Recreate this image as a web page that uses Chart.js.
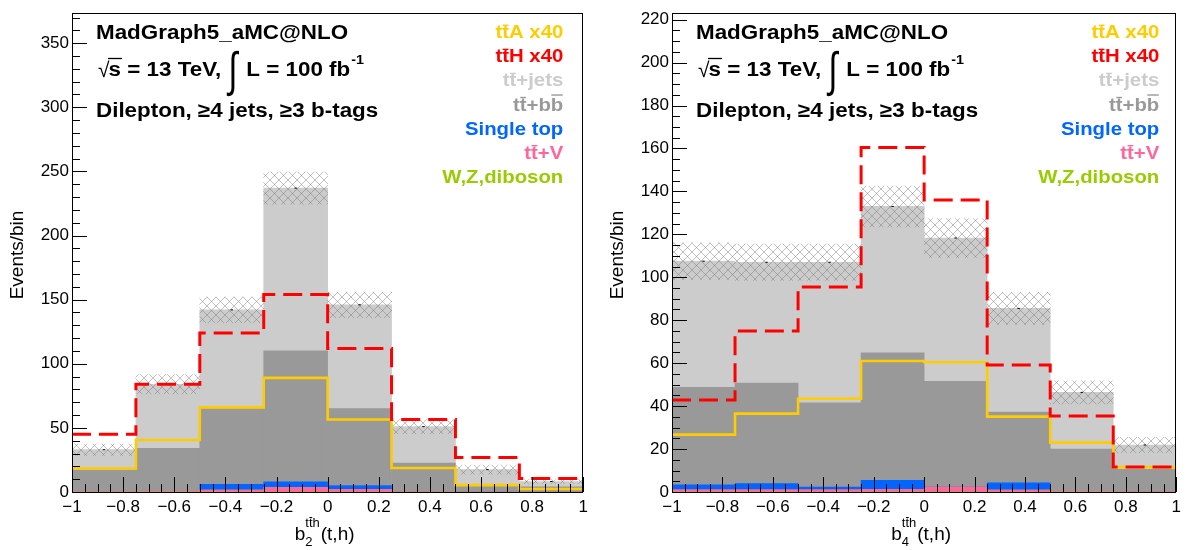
<!DOCTYPE html>
<html>
<head>
<meta charset="utf-8">
<script src="https://cdn.jsdelivr.net/npm/chart.js@4.4.1/dist/chart.umd.min.js"></script>
<style>
  body { margin: 0; background: #fff; }
  #wrap { position: relative; width: 1186px; height: 550px; }
  #wrap canvas { position: absolute; top: 0; }
</style>
</head>
<body>
<div id="wrap">
  <canvas id="cb2" width="593" height="550" style="left:0px"></canvas>
  <canvas id="cb4" width="593" height="550" style="left:593px"></canvas>
</div>
<script>
// binning: 8 bins of width 0.25 between -1 and 1
var binLow = [-1, -0.75, -0.5, -0.25, 0, 0.25, 0.5, 0.75];
var binWidth = 0.25;

// b2 distribution (events/bin, 100 fb-1)
var b2_wz     = [0, 0, 0, 0, 0, 0, 0, 0];
var b2_ttV    = [0.4, 0.6, 1.6, 3.6, 2.0, 0.3, 0.2, 0.1];
var b2_stop   = [0.0, 0.0, 4.4, 4.4, 3.1, 0.1, 0.0, 0.0];
var b2_ttbb   = [16.6, 33.4, 59.0, 102.0, 59.9, 22.2, 5.8, 4.0];
var b2_ttjets = [16.0, 50.0, 77.0, 127.0, 81.0, 28.4, 11.5, 4.1];
var b2_err    = [4.4, 7.5, 10.0, 12.5, 10.0, 5.5, 3.5, 1.5];
var b2_ttH    = [45.0, 84.0, 124.0, 154.0, 112.0, 56.5, 27.0, 10.5];
var b2_ttA    = [18.3, 40.5, 66.0, 89.0, 56.5, 18.7, 5.4, 2.3];

// b4 distribution
var b4_wz     = [0, 0, 0, 0, 0, 0, 0, 0];
var b4_ttV    = [1.1, 1.1, 1.1, 1.3, 2.3, 1.0, 0.3, 0.2];
var b4_stop   = [2.2, 2.8, 1.2, 4.1, 0.0, 3.3, 0.0, 0.0];
var b4_ttbb   = [45.4, 46.8, 39.2, 59.4, 49.2, 32.9, 19.7, 10.4];
var b4_ttjets = [58.8, 56.3, 65.5, 68.2, 66.8, 48.3, 26.4, 11.3];
var b4_err    = [8.5, 8.5, 8.5, 9.5, 9.0, 7.5, 5.4, 3.6];
var b4_ttH    = [42.8, 75.0, 95.5, 160.5, 136.0, 59.2, 35.4, 11.6];
var b4_ttA    = [26.7, 36.5, 43.4, 61.0, 60.4, 35.1, 23.0, 11.6];

// legend entries, top to bottom ("bars" = character ranges drawn with an overline)
var legendText  = ['ttA x40', 'ttH x40', 'tt+jets', 'tt+bb', 'Single top', 'tt+V', 'W,Z,diboson'];
var legendBars  = [[[1, 2]], [[1, 2]], [[1, 2]], [[1, 2], [4, 5]], [], [[1, 2]], []];
var legendColor = ['#ffcc00', '#ff0000', '#cccccc', '#999999', '#0066ff', '#ff6699', '#99cc00'];

var headTitle = 'MadGraph5_aMC@NLO';
var headCut = 'Dilepton, \u22654 jets, \u22653 b-tags';
var yTitle = 'Events/bin';

var FONT = '"Liberation Sans", Arial, Helvetica, sans-serif';

function sum(arrs, i) {
  var s = 0;
  for (var k = 0; k < arrs.length; k++) s += arrs[k][i];
  return s;
}

function barPoints(vals) {
  return binLow.map(function (x, i) { return { x: x + binWidth / 2, y: vals[i] }; });
}

// histogram outline: one point per low edge plus the last high edge
function stepPoints(vals) {
  var pts = binLow.map(function (x, i) { return { x: x, y: vals[i] }; });
  pts.push({ x: binLow[binLow.length - 1] + binWidth, y: vals[vals.length - 1] });
  return pts;
}

function hatchPattern() {
  var c = document.createElement('canvas');
  c.width = 9; c.height = 9;
  var g = c.getContext('2d');
  g.strokeStyle = 'rgba(115,115,115,0.45)';
  g.lineWidth = 1;
  g.beginPath();
  g.moveTo(0, 0); g.lineTo(9, 9);
  g.moveTo(0, 9); g.lineTo(9, 0);
  g.stroke();
  return g.createPattern(c, 'repeat');
}

function text(ctx, s, x, y, font, color, align, sx) {
  sx = sx || 1;
  ctx.save();
  ctx.font = font;
  ctx.fillStyle = color || '#000';
  ctx.textAlign = align || 'left';
  ctx.textBaseline = 'alphabetic';
  ctx.translate(x, y);
  ctx.scale(sx, 1);
  ctx.fillText(s, 0, 0);
  var w = ctx.measureText(s).width * sx;
  ctx.restore();
  return w;
}

function measure(ctx, s, font, sx) {
  ctx.save();
  ctx.font = font;
  var w = ctx.measureText(s).width * (sx || 1);
  ctx.restore();
  return w;
}

function hline(ctx, x1, x2, y, color, lw) {
  ctx.save();
  ctx.strokeStyle = color;
  ctx.lineWidth = lw;
  ctx.beginPath();
  ctx.moveTo(x1, y); ctx.lineTo(x2, y);
  ctx.stroke();
  ctx.restore();
}

// axes ticks (inside the frame), frame and all the labels drawn on top
var decor = {
  id: 'decor',
  afterDatasetsDraw: function (chart, args, o) {
    var ctx = chart.ctx, a = chart.chartArea;
    var xs = chart.scales.x, ys = chart.scales.y;
    ctx.save();
    ctx.strokeStyle = '#000';
    ctx.lineWidth = 1;
    ctx.beginPath();
    var n = Math.floor(ys.max / o.yMinor + 1e-6);
    var per = Math.round(o.yStep / o.yMinor);
    for (var i = 0; i <= n; i++) {
      var py = Math.round(ys.getPixelForValue(i * o.yMinor)) + 0.5;
      var len = (i % per === 0) ? 15 : 8;
      ctx.moveTo(a.left, py); ctx.lineTo(a.left + len, py);
    }
    for (var j = 0; j <= 40; j++) {
      var px = Math.round(xs.getPixelForValue(-1 + j * 0.05)) + 0.5;
      var l2 = (j % 4 === 0) ? 15 : 8;
      ctx.moveTo(px, a.bottom); ctx.lineTo(px, a.bottom - l2);
    }
    ctx.stroke();
    ctx.strokeRect(Math.round(a.left) + 0.5, Math.round(a.top) + 0.5,
                   Math.round(a.right - a.left) - 1, Math.round(a.bottom - a.top));
    ctx.restore();
  },
  afterDraw: function (chart, args, o) {
    var ctx = chart.ctx, a = chart.chartArea;
    var bold20 = 'bold 20px ' + FONT;
    var sxHead = 1.12;
    var x0 = a.left + 24;

    // generator / energy / selection block
    text(ctx, headTitle, x0, 39, bold20, '#000', 'left', sxHead);

    var bx = x0 + 2, by = 76;
    var wr = text(ctx, '\u221a', bx, by + 1, '21px ' + FONT, '#000', 'left', 1);
    var ws = text(ctx, 's', bx + wr - 1, by, bold20, '#000', 'left', sxHead);
    hline(ctx, bx + wr - 1.5, bx + wr + ws, by - 17.5, '#000', 1.3);
    var w1 = text(ctx, ' = 13 TeV,', bx + wr + ws - 1, by, bold20, '#000', 'left', sxHead);
    var ix = bx + wr + ws + w1 + 6;
    ctx.save();
    ctx.font = '30px ' + FONT;
    ctx.fillStyle = '#000';
    ctx.translate(ix, by + 10);
    ctx.scale(1.1, 1.6);
    ctx.fillText('\u222b', 0, 0);
    var wi = ctx.measureText('\u222b').width * 1.1;
    ctx.restore();
    var lx = ix + wi + 9;
    var wl = text(ctx, 'L = 100 fb', lx, by, bold20, '#000', 'left', sxHead);
    text(ctx, '-1', lx + wl + 1, by - 12, 'bold 13px ' + FONT, '#000', 'left', 1.1);

    text(ctx, headCut, x0, 117, bold20, '#000', 'left', sxHead);

    // legend (right aligned, coloured text)
    var lf = 'bold 18.5px ' + FONT, sxl = 1.1;
    var rx = a.right - o.legendGap;
    for (var k = 0; k < legendText.length; k++) {
      var yb = 38.3 + k * 24.07;
      var s = legendText[k];
      var wt = text(ctx, s, rx, yb, lf, legendColor[k], 'right', sxl);
      var sx0 = rx - wt;
      legendBars[k].forEach(function (r) {
        var b0 = sx0 + measure(ctx, s.slice(0, r[0]), lf, sxl);
        var b1 = sx0 + measure(ctx, s.slice(0, r[1]), lf, sxl);
        var hy = (s.charAt(r[0]) === 'b') ? yb - 15.5 : yb - 13;
        hline(ctx, b0 + 0.5, b1 - 0.5, hy, legendColor[k], 1.4);
      });
    }

    // y axis title
    ctx.save();
    ctx.font = '19px ' + FONT;
    ctx.fillStyle = '#000';
    ctx.textAlign = 'center';
    ctx.textBaseline = 'middle';
    ctx.translate(a.left - 54, 255);
    ctx.rotate(-Math.PI / 2);
    ctx.fillText(yTitle, 0, 0);
    ctx.restore();

    // x axis title: b_n^{tt~h}(t,h)
    var f19 = '19px ' + FONT, f13 = '13px ' + FONT;
    var wb = measure(ctx, 'b', f19), wsup = measure(ctx, 'tth', f13);
    var wsub = measure(ctx, o.sub, f13), wpar = measure(ctx, '(t,h)', f19);
    var tot = wb + Math.max(wsup, wsub) + 1 + wpar;
    var tx = (a.left + a.right) / 2 - tot / 2 - 3, ty = 540;
    text(ctx, 'b', tx, ty, f19, '#000', 'left');
    text(ctx, o.sub, tx + wb, ty + 6, f13, '#000', 'left');
    text(ctx, 'tth', tx + wb, ty - 13, f13, '#000', 'left');
    var t1 = measure(ctx, 't', f13);
    hline(ctx, tx + wb + t1 + 0.5, tx + wb + 2 * t1 - 0.3, ty - 22.5, '#000', 1);
    text(ctx, '(t,h)', tx + wb + Math.max(wsup, wsub) + 1, ty, f19, '#000', 'left');
  }
};

function xLabel(v) {
  var r = Math.round(v * 10) / 10;
  if (r === 0) return '0';
  return (r < 0 ? '\u2212' : '') + Math.abs(r);
}

function makePanel(id, d) {
  var comps = [d.wz, d.ttV, d.stop, d.ttbb, d.ttjets];
  var total = binLow.map(function (x, i) { return sum(comps, i); });
  var band = binLow.map(function (x, i) {
    return { x: x + binWidth / 2, y: [total[i] - d.err[i], total[i] + d.err[i]] };
  });
  var hatch = hatchPattern();

  function stackSet(label, vals, color) {
    return {
      type: 'bar', label: label, data: barPoints(vals), xAxisID: 'xb', yAxisID: 'y',
      backgroundColor: color, borderWidth: 0, stack: 'bkg', order: 5,
      barPercentage: 1, categoryPercentage: 1
    };
  }

  return new Chart(document.getElementById(id), {
    type: 'bar',
    data: {
      datasets: [
        stackSet('W,Z,diboson', d.wz, '#99cc00'),
        stackSet('ttV', d.ttV, '#ff6699'),
        stackSet('Single top', d.stop, '#0066ff'),
        stackSet('tt+bb', d.ttbb, '#999999'),
        stackSet('tt+jets', d.ttjets, '#cccccc'),
        {
          type: 'bar', label: 'uncertainty', data: band, xAxisID: 'xb', yAxisID: 'y',
          backgroundColor: hatch, borderWidth: 0, stack: 'band', grouped: false, order: 4,
          barPercentage: 1, categoryPercentage: 1
        },
        {
          type: 'line', label: 'total', data: barPoints(total), xAxisID: 'xb', yAxisID: 'y',
          showLine: false, pointStyle: 'line', pointRadius: 1.2, borderColor: '#000',
          borderWidth: 1, stack: 'tot', order: 3
        },
        {
          type: 'line', label: 'ttA x40', data: stepPoints(d.ttA), xAxisID: 'xb', yAxisID: 'y',
          stepped: 'before', borderColor: '#ffcc00', borderWidth: 2.6, pointRadius: 0,
          fill: false, stack: 'ttA', order: 1
        },
        {
          type: 'line', label: 'ttH x40', data: stepPoints(d.ttH), xAxisID: 'xb', yAxisID: 'y',
          stepped: 'before', borderColor: '#ff0000', borderWidth: 3, borderDash: [19, 8],
          pointRadius: 0, fill: false, stack: 'ttH', order: 0
        }
      ]
    },
    options: {
      responsive: false,
      animation: false,
      devicePixelRatio: 1,
      events: [],
      layout: { padding: { top: 9, right: d.padRight, left: 0, bottom: 0 } },
      plugins: {
        legend: { display: false },
        tooltip: { enabled: false },
        decor: { yStep: d.yStep, yMinor: d.yMinor, sub: d.sub, legendGap: d.legendGap }
      },
      scales: {
        x: {
          type: 'linear', position: 'bottom', min: -1, max: 1, offset: false,
          grid: { display: false, drawTicks: false }, border: { display: false },
          ticks: {
            stepSize: 0.2, autoSkip: false, maxRotation: 0, padding: 5, color: '#000',
            font: { family: FONT, size: 17 }, callback: xLabel
          },
          afterFit: function (s) { s.height = 58; }
        },
        xb: {
          type: 'linear', display: false, min: -1, max: 1, offset: false, stacked: true,
          ticks: { stepSize: 0.25 }
        },
        y: {
          type: 'linear', position: 'left', min: 0, max: d.yMax, stacked: true,
          grid: { display: false, drawTicks: false }, border: { display: false },
          ticks: {
            stepSize: d.yStep, includeBounds: false, padding: 3, color: '#000',
            font: { family: FONT, size: 17 }
          },
          afterFit: function (s) { s.width = d.axisLeft; }
        }
      }
    },
    plugins: [decor]
  });
}

makePanel('cb2', {
  wz: b2_wz, ttV: b2_ttV, stop: b2_stop, ttbb: b2_ttbb, ttjets: b2_ttjets,
  err: b2_err, ttH: b2_ttH, ttA: b2_ttA,
  yMax: 373.4, yStep: 50, yMinor: 10, sub: '2', axisLeft: 72, padRight: 9, legendGap: 20
});
makePanel('cb4', {
  wz: b4_wz, ttV: b4_ttV, stop: b4_stop, ttbb: b4_ttbb, ttjets: b4_ttjets,
  err: b4_err, ttH: b4_ttH, ttA: b4_ttA,
  yMax: 223, yStep: 20, yMinor: 5, sub: '4', axisLeft: 79, padRight: 7, legendGap: 17
});
</script>
</body>
</html>
